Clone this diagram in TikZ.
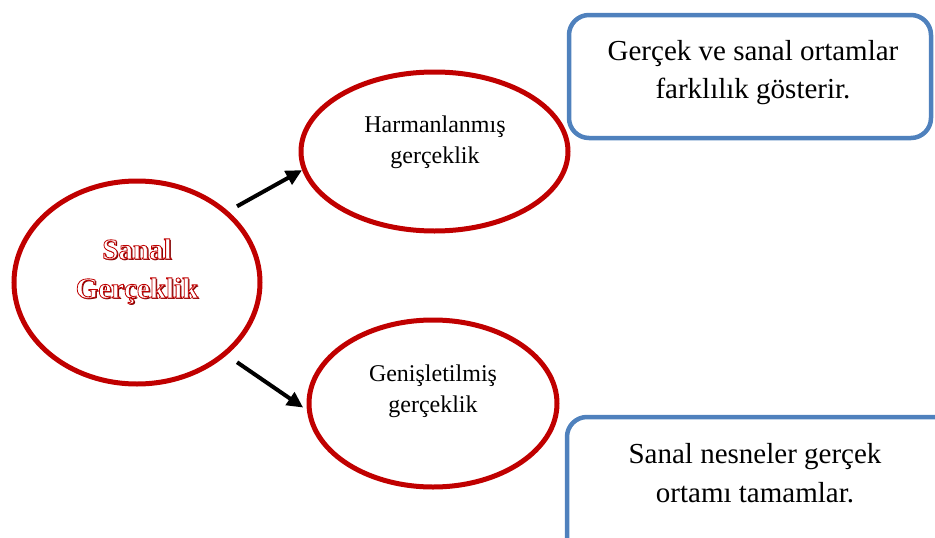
\documentclass[tikz,border=0pt]{standalone}
\usepackage{fontspec}
\setmainfont{Liberation Serif}
\usetikzlibrary{arrows.meta,shapes.geometric}
\definecolor{vred}{RGB}{192,0,0}
\definecolor{vshadow}{RGB}{120,0,0}
\definecolor{vblue}{RGB}{79,129,189}
\newcommand\fancytext[1]{\rlap{\raisebox{-1.3pt}{\hspace{1.3pt}\textcolor{vshadow}{#1}}}{\color{vred}\special{pdf:literal direct 2 Tr 0.8 w 1 g}#1\special{pdf:literal direct 0 Tr}}}
\begin{document}
\begin{tikzpicture}[x=1pt,y=-1pt,
  ell/.style={ellipse, draw=vred, line width=5pt, inner sep=0pt},
  box/.style={rectangle, rounded corners=20pt, draw=vblue, line width=4.5pt, inner sep=0pt},
  arr/.style={-{Triangle[length=16pt,width=15pt]}, line width=4pt, black},
  small/.style={anchor=base, inner sep=0pt, font=\fontsize{24}{28}\selectfont},
  boxtext/.style={anchor=base, inner sep=0pt, font=\fontsize{29}{34}\selectfont},
  bigtext/.style={anchor=base, inner sep=0pt, font=\fontsize{29}{34}\selectfont\bfseries},
]
\useasboundingbox (0,0) rectangle (935,538);
% ellipses
\node[ell, minimum width=246pt, minimum height=203pt] (big) at (137,282.5) {};
\node[ell, minimum width=267pt, minimum height=159pt] (harm) at (434.5,151.5) {};
\node[ell, minimum width=248pt, minimum height=167pt] (low) at (433,403.5) {};
% boxes
\node[box, minimum width=362pt, minimum height=123pt] (boxtop) at (750,76.5) {};
\node[box, minimum width=388pt, minimum height=143pt] (boxbot) at (761,488.5) {};
% texts
\node[bigtext] (t1) at (137,259) {\fancytext{Sanal}};
\node[bigtext] (t2) at (137,298) {\fancytext{Gerçeklik}};
\node[small] (h1) at (435,132) {Harmanlanmış};
\node[small] (h2) at (435,163) {gerçeklik};
\node[small] (g1) at (433,381) {Genişletilmiş};
\node[small] (g2) at (433,412) {gerçeklik};
\node[boxtext] (b1) at (753,60) {Gerçek ve sanal ortamlar};
\node[boxtext] (b2) at (753,98) {farklılık gösterir.};
\node[boxtext] (c1) at (755,463) {Sanal nesneler gerçek};
\node[boxtext] (c2) at (755,502) {ortamı tamamlar.};
% arrows
\draw[arr, shorten <=10pt] (big.38) -- (harm.188);
\draw[arr, shorten <=12.5pt, shorten >=4.5pt] (big.-39) -- (low.183);
\end{tikzpicture}
\end{document}
